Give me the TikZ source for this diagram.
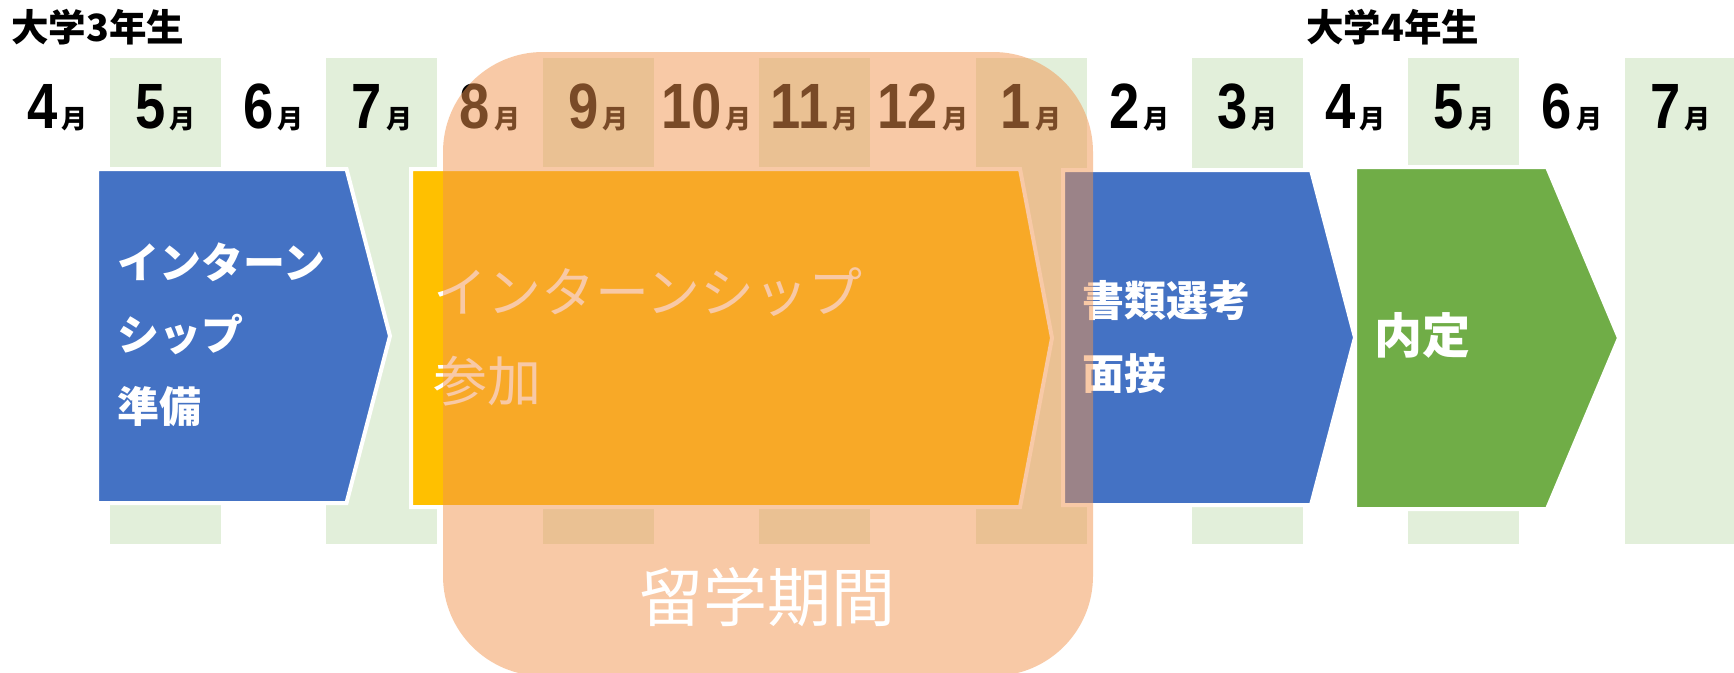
\documentclass[tikz,border=0pt]{standalone}
\usepackage{fontspec}
\setmainfont{Noto Sans CJK JP}
\newfontfamily\cjk{Noto Sans CJK JP}
\newfontfamily\numf[FakeStretch=0.85]{Liberation Sans}
\definecolor{cblue}{HTML}{4472C4}
\definecolor{cgreen}{HTML}{70AD47}
\definecolor{corange}{HTML}{FFC000}
\definecolor{ccol}{HTML}{E2EFDA}
\definecolor{cpeach}{RGB}{242,148,78}
\tikzset{
  colbox/.style={fill=ccol, draw=none},
  chevron/.style={draw=white, line width=4pt, line join=miter},
  mlabel/.style={anchor=base, inner sep=0pt, text=black},
  ylabel/.style={anchor=base west, inner sep=0pt, font=\cjk\bfseries\fontsize{37.5}{37.5}\selectfont},
  atext/.style={anchor=west, inner sep=0pt, text=white, align=left},
  overlay/.style={fill=cpeach, fill opacity=0.5, draw=none, rounded corners=100pt},
}
\begin{document}
\begin{tikzpicture}[x=1pt,y=-1pt]
\useasboundingbox (0,0) rectangle (1734,672);
\fill[white] (0,0) rectangle (1734,672);
% month columns
\foreach \i in {1,3,...,15} {
  \fill[colbox] ({57.3+108.2*\i-55.5},57.5) rectangle ++(111,486.5);
}
% month labels
\foreach \m [count=\i from 0] in {4,5,6,7,8,9,10,11,12,1,2,3,4,5,6,7} {
  \node[mlabel] (m\i) at ({57.3+108.2*\i},128)
    {{\numf\bfseries\fontsize{64}{64}\selectfont \m}\hspace{4pt}{\cjk\bfseries\fontsize{26}{26}\selectfont 月}};
}
% year labels
\node[ylabel] (y3) at (11,41) {大学3年生};
\node[ylabel] (y4) at (1306,41) {大学4年生};
% chevrons
\filldraw[fill=cblue, chevron] (97,169) -- (346.5,169) -- (390,336) -- (346.5,503) -- (97,503) -- cycle;
\node[atext, font=\cjk\bfseries\fontsize{42}{72}\selectfont] (t1) at (117,335) {インターン\\シップ\\準備};
\filldraw[fill=corange, chevron] (411,169) -- (1020,169) -- (1052,338) -- (1020,507) -- (411,507) -- cycle;
\node[atext, font=\cjk\fontsize{54}{89}\selectfont] (t2) at (433,336.5) {インターンシップ\\参加};
\filldraw[fill=cblue, chevron] (1063,170) -- (1311,170) -- (1355,337.5) -- (1311,505) -- (1063,505) -- cycle;
\node[atext, font=\cjk\bfseries\fontsize{42}{73.5}\selectfont] (t3) at (1082,337) {書類選考\\面接};
\filldraw[fill=cgreen, chevron] (1355,167) -- (1547,167) -- (1619,338) -- (1547,509) -- (1355,509) -- cycle;
\node[atext, font=\cjk\bfseries\fontsize{48}{48}\selectfont] (t4) at (1374,335) {内定};
% study abroad overlay
\fill[overlay] (443,52) rectangle (1093,676);
\node[inner sep=0pt, text=white, font=\cjk\fontsize{64}{64}\selectfont] (ryu) at (767,597.5) {留学期間};
\end{tikzpicture}
\end{document}
